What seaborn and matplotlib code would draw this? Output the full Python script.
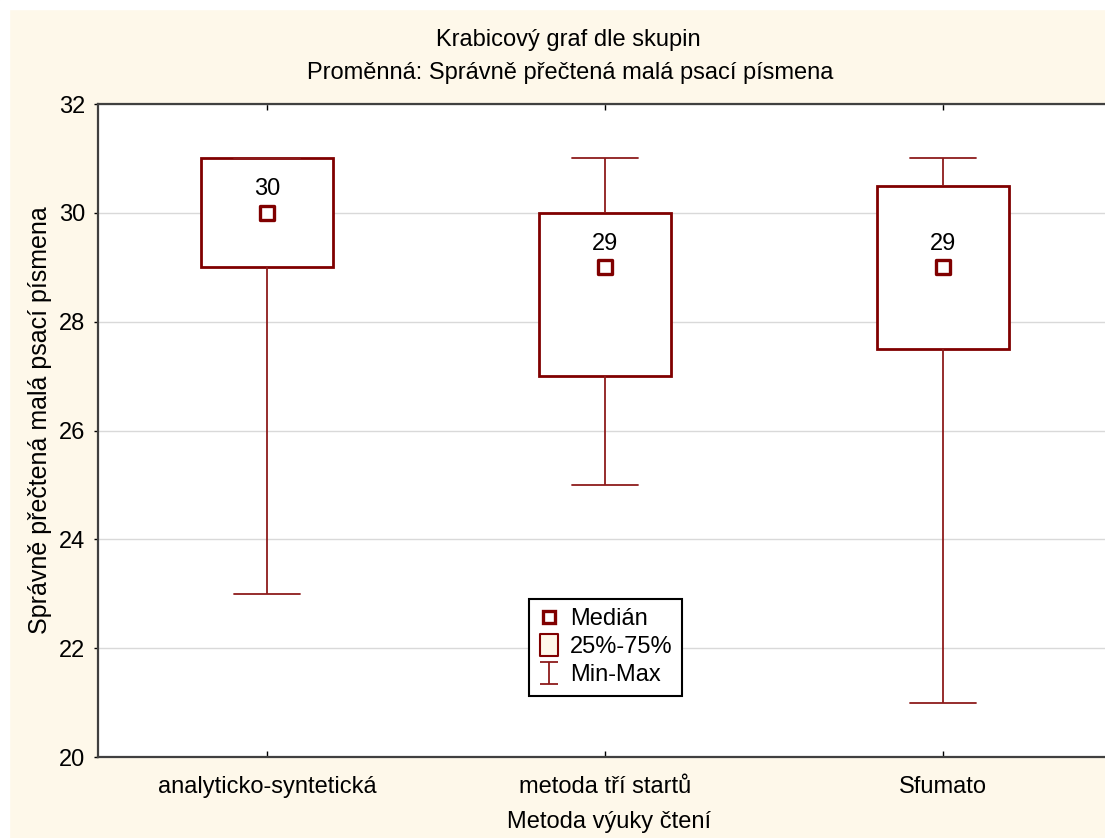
import matplotlib
matplotlib.use('Agg')
import matplotlib.pyplot as plt
import numpy as np
import pandas as pd
import seaborn as sns
from matplotlib.lines import Line2D
from matplotlib.path import Path
from matplotlib.patches import Rectangle

# Pětičíselné shrnutí pro každou skupinu (min, Q1, medián, Q3, max)
SKUPINY = ['analyticko-syntetická', 'metoda tří startů', 'Sfumato']
MINIMA = [23, 25, 21]
Q1 = [29, 27, 27.5]
MEDIANY = [30, 29, 29]
Q3 = [31, 30, 30.5]
MAXIMA = [31, 31, 31]
Y_TICKY = [20, 22, 24, 26, 28, 30, 32]

TITULEK_1 = 'Krabicový graf dle skupin'
TITULEK_2 = 'Proměnná: Správně přečtená malá psací písmena'
POPIS_X = 'Metoda výuky čtení'
POPIS_Y = 'Správně přečtená malá psací písmena'

CERVENA = '#800000'
VOUSY = '#8E1B1B'
KREMOVA = '#FEF8EA'
FS = 17


def main():
    sns.set_style('white')
    plt.rcParams['font.family'] = ['Liberation Sans', 'DejaVu Sans']
    plt.rcParams['text.color'] = 'black'

    W, H = 1105, 838
    fig = plt.figure(figsize=(W / 100, H / 100), dpi=100, facecolor=KREMOVA)
    # bílý okraj nahoře a vlevo
    fig.patches.append(Rectangle((0, 0), 9 / W, 1, transform=fig.transFigure, color='white', zorder=-1))
    fig.patches.append(Rectangle((0, 1 - 9 / H), 1, 9 / H, transform=fig.transFigure, color='white', zorder=-1))

    ax = fig.add_axes([98 / W, 1 - 757 / H, (1112 - 98) / W, (757 - 104) / H])
    ax.set_facecolor('white')

    # data v dlouhém formátu ze shrnutí
    radky = []
    for i, sk in enumerate(SKUPINY):
        for v in (MINIMA[i], Q1[i], MEDIANY[i], Q3[i], MAXIMA[i]):
            radky.append({'skupina': sk, 'hodnota': v})
    df = pd.DataFrame(radky)

    sns.boxplot(
        data=df, x='skupina', y='hodnota', order=SKUPINY, ax=ax,
        whis=(0, 100), width=0.39, color='white', saturation=1,
        linecolor=CERVENA, linewidth=2,
        medianprops={'visible': False},
        whiskerprops={'color': VOUSY, 'linewidth': 1.3},
        capprops={'color': VOUSY, 'linewidth': 1.3},
        boxprops={'edgecolor': CERVENA, 'linewidth': 2},
    )

    med = pd.DataFrame({'skupina': SKUPINY, 'median': MEDIANY})
    sns.scatterplot(
        data=med, x='skupina', y='median', ax=ax, marker='s', s=90,
        facecolor='white', edgecolor=CERVENA, linewidth=2.4, zorder=5, legend=False,
    )
    for i, m in enumerate(MEDIANY):
        ax.annotate(f'{m}', (i, m), xytext=(0, 17), textcoords='offset points',
                    ha='center', va='center', fontsize=FS, color='black')

    ax.set_xlim(-0.5, 2.5)
    ax.set_ylim(20, 32)
    ax.set_yticks(Y_TICKY)
    ax.grid(axis='y', color='#d9d9d9', linewidth=1)
    ax.set_axisbelow(True)
    ax.set_xlabel('')
    ax.set_ylabel('')
    ax.tick_params(axis='y', direction='out', length=3, width=1, labelsize=FS, pad=6,
                   colors='black', left=True)
    ax.tick_params(axis='x', direction='in', length=4, width=1, labelsize=FS, pad=14,
                   colors='black', top=True, bottom=True)
    for s in ['left', 'bottom', 'top']:
        ax.spines[s].set_color('#404040')
        ax.spines[s].set_linewidth(1.6)
    ax.spines['right'].set_visible(False)

    fig.text(568 / W, 1 - 40 / H, TITULEK_1, ha='center', va='center', fontsize=FS)
    fig.text(570 / W, 1 - 73 / H, TITULEK_2, ha='center', va='center', fontsize=FS)
    fig.text(609 / W, 1 - 822 / H, POPIS_X, ha='center', va='center', fontsize=FS)
    fig.text(40 / W, 1 - 420 / H, POPIS_Y, ha='center', va='center', rotation=90, fontsize=18)

    # legenda
    obdelnik = Path([(-0.39, -0.5), (0.39, -0.5), (0.39, 0.5), (-0.39, 0.5), (-0.39, -0.5)],
                    [Path.MOVETO, Path.LINETO, Path.LINETO, Path.LINETO, Path.CLOSEPOLY])
    ibeam = Path([(-0.39, -0.5), (0.39, -0.5), (0, -0.5), (0, 0.5), (-0.39, 0.5), (0.39, 0.5)],
                 [Path.MOVETO, Path.LINETO, Path.MOVETO, Path.LINETO, Path.MOVETO, Path.LINETO])
    handles = [
        Line2D([], [], linestyle='none', marker='s', markersize=9, markerfacecolor='white',
               markeredgecolor=CERVENA, markeredgewidth=2.4),
        Line2D([], [], linestyle='none', marker=obdelnik, markersize=16, markerfacecolor=KREMOVA,
               markeredgecolor=CERVENA, markeredgewidth=1.5),
        Line2D([], [], linestyle='none', marker=ibeam, markersize=16, markerfacecolor='none',
               markeredgecolor=VOUSY, markeredgewidth=1.3),
    ]
    leg = fig.legend(handles, ['Medián', '25%-75%', 'Min-Max'], loc='upper left',
                     bbox_to_anchor=(529 / W, 1 - 599 / H), fontsize=FS, frameon=True,
                     fancybox=False, handlelength=0.9, handletextpad=0.45, labelspacing=0.25,
                     borderpad=0.4, borderaxespad=0)
    leg.get_frame().set_edgecolor('black')
    leg.get_frame().set_linewidth(1.5)
    leg.get_frame().set_facecolor('white')
    leg.get_frame().set_alpha(1)
    for t in leg.get_texts():
        t.set_color('black')

    fig.savefig('out.png', dpi=100, facecolor=fig.get_facecolor())
    plt.close(fig)


if __name__ == '__main__':
    main()
